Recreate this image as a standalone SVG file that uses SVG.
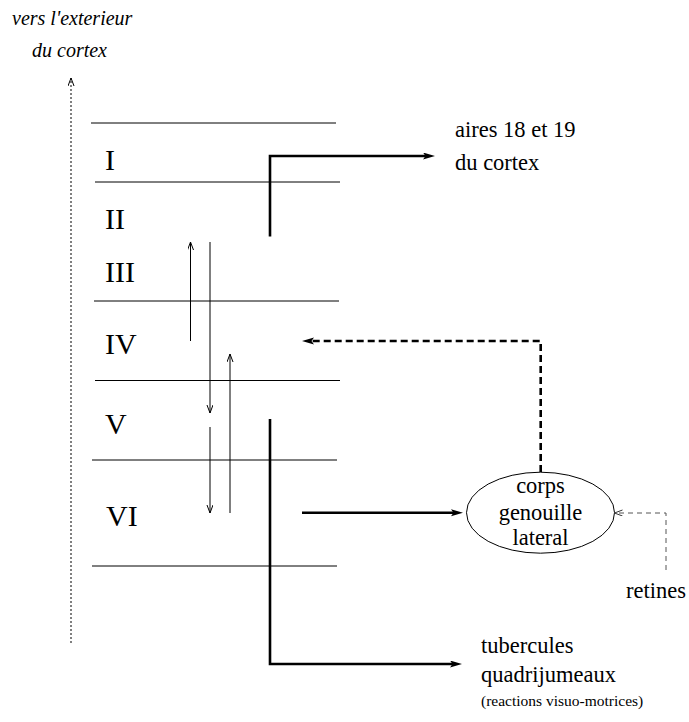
<svg xmlns="http://www.w3.org/2000/svg" width="689" height="722" viewBox="0 0 689 722">
<style>
text{font-family:'Liberation Serif',Tinos,'Times New Roman',Times,'Nimbus Roman','DejaVu Serif',serif;fill:#000}
.lbl{font-size:22.5px}
.rom{font-size:30px}
.ital{font-size:20px;font-style:italic}
.small{font-size:15.5px}
.layer{stroke:#000;stroke-width:1;fill:none}
.thin{stroke:#000;stroke-width:1;fill:none}
.thick{stroke:#000;stroke-width:2.6;fill:none}
.dash{stroke:#000;stroke-width:2.6;fill:none;stroke-dasharray:7,4}
.ret{stroke:#555;stroke-width:1;fill:none;stroke-dasharray:5,4}
.dot{stroke:#000;stroke-width:1;fill:none;stroke-dasharray:2,2}
</style>
<defs>
<marker id="fill" markerUnits="userSpaceOnUse" markerWidth="14" markerHeight="8" refX="3" refY="3.5" orient="auto" viewBox="0 0 14 8">
<path d="M0,0 L12,3.5 L0,7 L2.5,3.5 z" fill="#000"/>
</marker>
<marker id="open" markerUnits="userSpaceOnUse" markerWidth="10" markerHeight="8" refX="8" refY="3" orient="auto" viewBox="0 0 10 8">
<path d="M0,0 L8,3 L0,6" fill="none" stroke="#000" stroke-width="1"/>
</marker>
<marker id="openg" markerUnits="userSpaceOnUse" markerWidth="10" markerHeight="8" refX="8" refY="3" orient="auto" viewBox="0 0 10 8">
<path d="M0,0 L8,3 L0,6" fill="none" stroke="#333" stroke-width="1"/>
</marker>
</defs>

<g id="axis">
<path class="dot" d="M71,643 V78" marker-end="url(#open)"/>
<text class="ital" x="12" y="25">vers l'exterieur</text>
<text class="ital" x="32" y="57">du cortex</text>
</g>

<g id="cortex-layers">
<line class="layer" x1="91" y1="123" x2="336" y2="123"/>
<line class="layer" x1="95" y1="182" x2="340" y2="182"/>
<line class="layer" x1="94" y1="301" x2="339" y2="301"/>
<line class="layer" x1="95" y1="380.5" x2="340" y2="380.5"/>
<line class="layer" x1="92" y1="460" x2="337" y2="460"/>
<line class="layer" x1="92" y1="566" x2="337" y2="566"/>
<text class="rom" x="105" y="170">I</text>
<text class="rom" x="105" y="229">II</text>
<text class="rom" x="105" y="282">III</text>
<text class="rom" x="105" y="354">IV</text>
<text class="rom" x="105" y="434">V</text>
<text class="rom" x="106" y="526">VI</text>
</g>

<g id="aires">
<text class="lbl" x="455" y="137">aires 18 et 19</text>
<text class="lbl" x="455" y="170">du cortex</text>
</g>

<g id="cgl">
<ellipse cx="540.5" cy="512.7" rx="74" ry="40.5" fill="none" stroke="#000" stroke-width="1"/>
<text class="lbl" x="540.5" y="493" text-anchor="middle">corps</text>
<text class="lbl" x="540.5" y="520" text-anchor="middle">genouille</text>
<text class="lbl" x="540.5" y="545" text-anchor="middle">lateral</text>
</g>

<g id="retines">
<text class="lbl" x="626" y="598">retines</text>
</g>

<g id="tubercules">
<text class="lbl" x="481" y="653">tubercules</text>
<text class="lbl" x="481" y="682">quadrijumeaux</text>
<text class="small" x="481" y="706">(reactions visuo-motrices)</text>
</g>

<g id="connectors">
<path class="thick" d="M270,236.5 V156 H426" marker-end="url(#fill)"/>
<path class="thin" d="M190.5,341 V242" marker-end="url(#open)"/>
<path class="thin" d="M210,242 V413" marker-end="url(#open)"/>
<path class="thin" d="M230,513 V354" marker-end="url(#open)"/>
<path class="thin" d="M210,427 V513" marker-end="url(#open)"/>
<path class="thick" d="M270,419 V664 H453" marker-end="url(#fill)"/>
<path class="thick" d="M302,512.7 H454" marker-end="url(#fill)"/>
<path class="dash" d="M540.7,472 V341 H311" marker-end="url(#fill)"/>
<path class="ret" d="M666,570 V513 H614.5" marker-end="url(#openg)"/>
</g>
</svg>
